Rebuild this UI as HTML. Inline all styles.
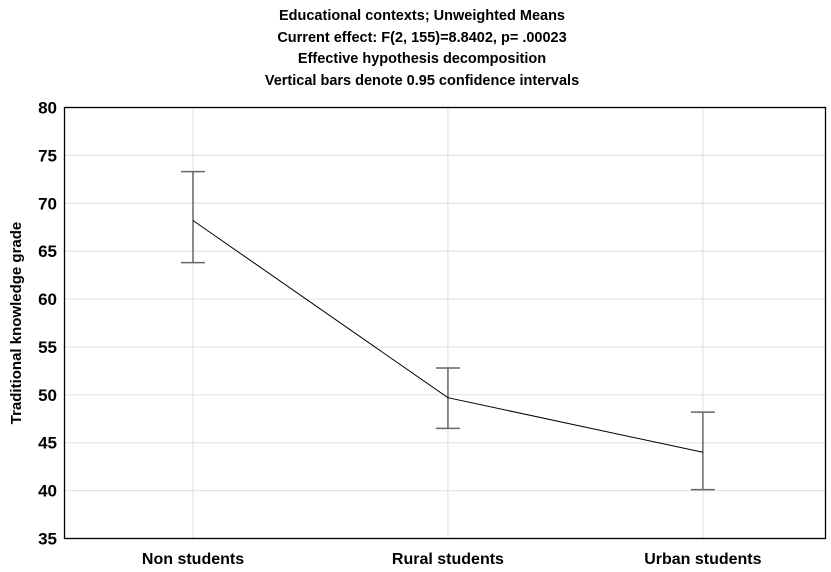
<!DOCTYPE html>
<html><head><meta charset="utf-8"><style>
body{margin:0;background:#fff;}
svg{display:block;font-family:"Liberation Sans",sans-serif;}
</style></head><body>
<svg id="chart" width="831" height="572" viewBox="0 0 831 572">
<g font-weight="bold" font-size="14.5" text-anchor="middle" fill="#000">
<text x="422" y="20">Educational contexts; Unweighted Means</text>
<text x="422" y="42">Current effect: F(2, 155)=8.8402, p= .00023</text>
<text x="422" y="63">Effective hypothesis decomposition</text>
<text x="422" y="85">Vertical bars denote 0.95 confidence intervals</text>
</g>
<g id="grid"></g>
<g id="yticks"></g>
<g id="xticks"></g>
<g id="series"></g>
<rect x="64.5" y="107.5" width="761" height="431" fill="none" stroke="#000" stroke-width="1.3"/>
<text transform="translate(21,323) rotate(-90)" text-anchor="middle" font-weight="bold" font-size="15">Traditional knowledge grade</text>
</svg>
<script>
const categories=["Non students","Rural students","Urban students"];
const means=[68.2,49.7,44.0];
const lower=[63.8,46.5,40.1];
const upper=[73.3,52.8,48.2];
const yTicks=[35,40,45,50,55,60,65,70,75,80];
const NS="http://www.w3.org/2000/svg";
const L=64.5,R=825.5,T=107.5,B=538.5;
function y(v){return B-(v-35)/45*(B-T);}
function x(i){return L+128.5+(R-L)*0.335*i;}
function mk(tag,attrs,parent){const e=document.createElementNS(NS,tag);for(const k in attrs)e.setAttribute(k,attrs[k]);parent.appendChild(e);return e;}
const grid=document.getElementById('grid'),yt=document.getElementById('yticks'),xt=document.getElementById('xticks'),se=document.getElementById('series');
yTicks.forEach(v=>{
 const g=mk('line',{x1:L,x2:R,y1:y(v),y2:y(v),stroke:'#e4e4e4','stroke-width':1.2},grid);
 
 
 const t=mk('text',{x:57,y:y(v)+6,'text-anchor':'end','font-size':17,'font-weight':'bold'},yt);
 t.textContent=v;
 
 
});
categories.forEach((c,i)=>{
 const g=mk('line',{x1:x(i),x2:x(i),y1:T,y2:B,stroke:'#e4e4e4','stroke-width':1.2},grid);
 
 
 const t=mk('text',{x:x(i),y:564,'text-anchor':'middle','font-size':16,'font-weight':'bold'},xt);
 t.textContent=c;
 
 
});
categories.forEach((c,i)=>{
 const eb=mk('g',{stroke:'#666','stroke-width':1.5},se);
 
 
 mk('line',{x1:x(i),x2:x(i),y1:y(upper[i]),y2:y(lower[i])},eb);
 mk('line',{x1:x(i)-12,x2:x(i)+12,y1:y(upper[i]),y2:y(upper[i])},eb);
 mk('line',{x1:x(i)-12,x2:x(i)+12,y1:y(lower[i]),y2:y(lower[i])},eb);
});
const pl=mk('polyline',{points:means.map((m,i)=>x(i)+','+y(m)).join(' '),fill:'none',stroke:'#000','stroke-width':1},se);


</script>
</body></html>
